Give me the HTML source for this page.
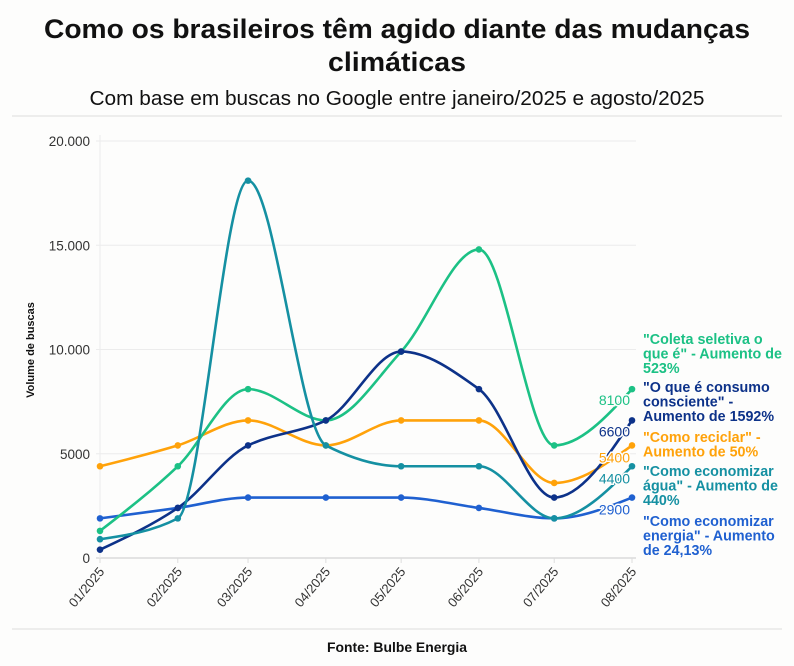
<!DOCTYPE html>
<html><head><meta charset="utf-8"><style>
html,body{margin:0;padding:0;background:#fdfdfc;}
svg{display:block;font-family:"Liberation Sans",sans-serif;}
</style></head><body>
<svg id="chart" width="794" height="666" viewBox="0 0 794 666">
<rect width="794" height="666" fill="#fdfdfc"/>
<text x="397" y="38" text-anchor="middle" font-size="27" font-weight="bold" fill="#111" textLength="706" lengthAdjust="spacingAndGlyphs">Como os brasileiros têm agido diante das mudanças</text>
<text x="397" y="71" text-anchor="middle" font-size="27" font-weight="bold" fill="#111" textLength="138" lengthAdjust="spacingAndGlyphs">climáticas</text>
<text x="397" y="105" text-anchor="middle" font-size="20" fill="#111" textLength="615" lengthAdjust="spacingAndGlyphs">Com base em buscas no Google entre janeiro/2025 e agosto/2025</text>
<line x1="12" y1="116" x2="782" y2="116" stroke="#ddd" stroke-width="1"/>
<line x1="12" y1="629" x2="782" y2="629" stroke="#ddd" stroke-width="1"/>
<text x="397" y="652" text-anchor="middle" font-size="14" font-weight="bold" fill="#111" textLength="140" lengthAdjust="spacingAndGlyphs">Fonte: Bulbe Energia</text>
<text transform="translate(34,350) rotate(-90)" text-anchor="middle" font-size="11" font-weight="bold" fill="#111">Volume de buscas</text>
<g id="grid"></g><g id="series"></g><g id="labels"></g>
</svg>
<script>
const categories = ["01/2025","02/2025","03/2025","04/2025","05/2025","06/2025","07/2025","08/2025"];
const dayOffsets = [0,31,59,90,120,151,181,212];
const yTicks = [0,5000,10000,15000,20000];
const yTickLabels = ["0","5000","10.000","15.000","20.000"];
const coleta = [1300,4400,8100,6600,9900,14800,5400,8100];
const consumo = [400,2400,5400,6600,9900,8100,2900,6600];
const reciclar = [4400,5400,6600,5400,6600,6600,3600,5400];
const agua = [900,1900,18100,5400,4400,4400,1900,4400];
const energia = [1900,2400,2900,2900,2900,2400,1900,2900];
const endLabels = ["8100","6600","5400","4400","2900"];

const NS="http://www.w3.org/2000/svg";
const x0=100,x1=632,yb=558,yt=141;
function xs(i){return x0+(dayOffsets[i]/dayOffsets[dayOffsets.length-1])*(x1-x0);}
function ys(v){return yb-(v/20000)*(yb-yt);}
function mk(t,a,p){const e=document.createElementNS(NS,t);for(const k in a)e.setAttribute(k,a[k]);p.appendChild(e);return e;}
const grid=document.getElementById('grid');
yTicks.forEach((v,i)=>{
  const l=mk('line',{x1:x0-4,x2:x1+4,y1:ys(v),y2:ys(v),stroke:i==0?'#e3e3e3':'#ececec','stroke-width':i==0?2:1},grid);
  
  
  const t=mk('text',{x:x0-10,y:ys(v)+5,'text-anchor':'end','font-size':13.5,fill:'#333'},grid);
  t.textContent=yTickLabels[i];
  
  
});
mk('line',{x1:x0,x2:x0,y1:yt-6,y2:yb+4,stroke:'#ececec','stroke-width':1},grid);
categories.forEach((c,i)=>{
  const x=xs(i);
  mk('line',{x1:x,x2:x,y1:yb,y2:yb+5,stroke:'#ddd'},grid);
  const t=mk('text',{transform:`translate(${x+5},${yb+14}) rotate(-50)`,'text-anchor':'end','font-size':13,fill:'#333'},grid);
  t.textContent=c;
  
  
});
function monotone(pts){
  const n=pts.length,d=[],m=[];
  for(let i=0;i<n-1;i++)d.push((pts[i+1][1]-pts[i][1])/(pts[i+1][0]-pts[i][0]));
  for(let i=0;i<n;i++){
    if(i==0)m.push(d[0]);else if(i==n-1)m.push(d[n-2]);
    else if(d[i-1]*d[i]<=0)m.push(0);
    else{const h0=pts[i][0]-pts[i-1][0],h1=pts[i+1][0]-pts[i][0];m.push(3*(h0+h1)/((2*h1+h0)/d[i-1]+(h1+2*h0)/d[i]));}
  }
  m[0]=(3*d[0]-m[1])/2;m[n-1]=(3*d[n-2]-m[n-2])/2;
  let s=`M${pts[0][0]},${pts[0][1]}`;
  for(let i=0;i<n-1;i++){const h=(pts[i+1][0]-pts[i][0])/3;
    s+=`C${pts[i][0]+h},${pts[i][1]+m[i]*h} ${pts[i+1][0]-h},${pts[i+1][1]-m[i+1]*h} ${pts[i+1][0]},${pts[i+1][1]}`;}
  return s;
}
const seriesList=[
 {d:energia,c:'#1f60d0',n:'energia',lbl:4,ly:17,legend:['"Como economizar','energia" - Aumento','de 24,13%'],legY:526},
 {d:reciclar,c:'#ffa20a',n:'reciclar',lbl:2,ly:17,legend:['"Como reciclar" -','Aumento de 50%'],legY:442},
 {d:coleta,c:'#1cc185',n:'coleta',lbl:0,ly:16,legend:['"Coleta seletiva o','que é" - Aumento de','523%'],legY:344},
 {d:consumo,c:'#0d3289',n:'consumo',lbl:1,ly:16,legend:['"O que é consumo','consciente" -','Aumento de 1592%'],legY:392},
 {d:agua,c:'#1590a2',n:'agua',lbl:3,ly:17,legend:['"Como economizar','água" - Aumento de','440%'],legY:476}
];
const sg=document.getElementById('series'),lg=document.getElementById('labels');
seriesList.forEach(s=>{
  const pts=s.d.map((v,i)=>[xs(i),ys(v)]);
  const p=mk('path',{d:monotone(pts),fill:'none',stroke:s.c,'stroke-width':2.6},sg);
  
  
  pts.forEach(q=>{
    const c=mk('circle',{cx:q[0],cy:q[1],r:3.3,fill:s.c},sg);
    
    
  });
  const last=pts[pts.length-1];
  const t=mk('text',{x:last[0]-2,y:last[1]+s.ly,'text-anchor':'end','font-size':14,fill:s.c,stroke:'#fdfdfc','stroke-width':3,'paint-order':'stroke'},lg);
  t.textContent=endLabels[s.lbl];
  
  
  s.legend.forEach((line,k)=>{
    const lt=mk('text',{x:643,y:s.legY+k*14.5,'font-size':14.3,'font-weight':'bold',fill:s.c},lg);
    lt.textContent=line;
    
    
  });
});
</script>
</body></html>
